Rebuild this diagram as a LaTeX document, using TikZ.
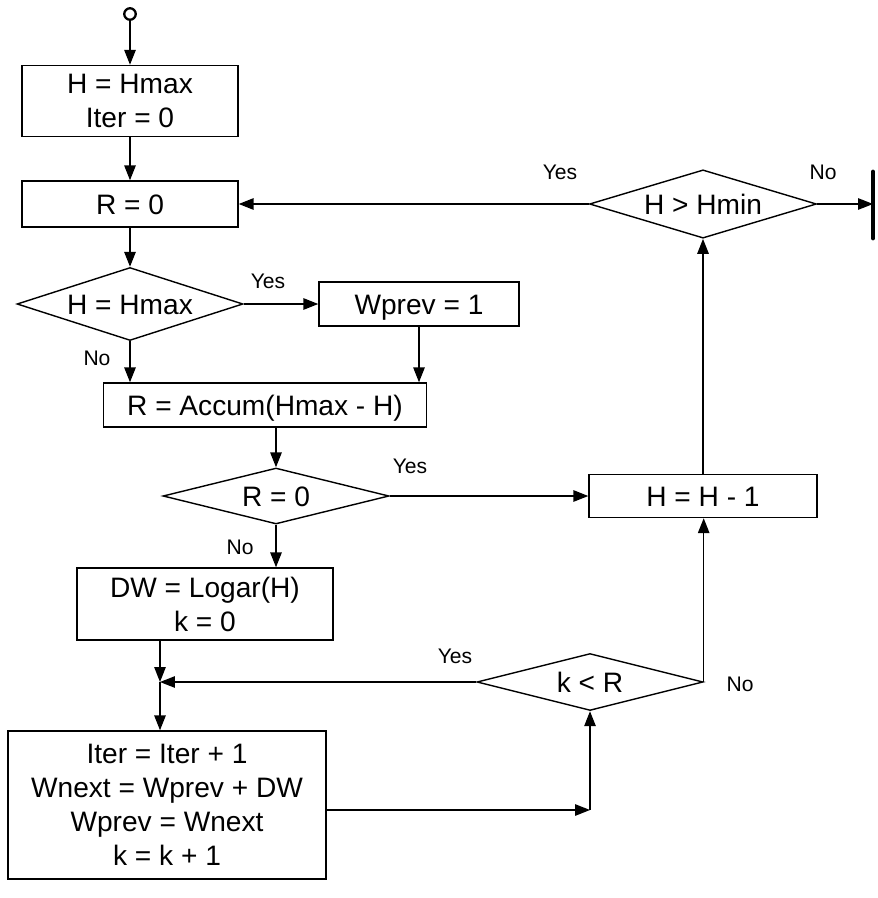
\documentclass[tikz,border=0pt]{standalone}
\usepackage{fontspec}
\setmainfont{Liberation Sans}
\usetikzlibrary{positioning,shapes.geometric,arrows.meta,calc}

\begin{document}
\begin{tikzpicture}[x=0.02cm, y=-0.02cm, line width=0.8pt,
    proc/.style={draw, rectangle, inner sep=0pt, align=center,
        font=\fontsize{16}{19.3}\selectfont},
    single/.style={text height=14pt, text depth=2.5pt},
    cond/.style={draw, diamond, aspect=3, inner sep=0pt, single,
        font=\fontsize{16}{19.3}\selectfont},
    lbl/.style={font=\fontsize{12}{14}\selectfont},
    flow/.style={-{Triangle[length=8.5pt, width=6.5pt]}}]
\useasboundingbox (0,0) rectangle (877,898);

% Start point
\node[draw, circle, inner sep=0pt, minimum size=0.23cm, line width=1.3pt] (start) at (130,14) {};

% Blocks
\node[proc, minimum width=4.32cm, minimum height=1.42cm] (init) at (130,101) {H = Hmax\\Iter = 0};
\node[proc, single, minimum width=4.32cm, minimum height=0.92cm] (rzero) at (130,204) {R = 0};
\node[cond, minimum width=4.52cm, minimum height=1.46cm] (ishmax) at (130,304) {H = Hmax};
\node[proc, single, minimum width=4.0cm, minimum height=0.88cm] (wprev) at (419,304) {Wprev = 1};
\node[proc, single, minimum width=6.46cm, minimum height=0.88cm] (accum) at (265,405) {R = Accum(Hmax - H)};
\node[cond, minimum width=4.52cm, minimum height=1.12cm] (isrzero) at (276,496) {R = 0};
\node[proc, single, minimum width=4.56cm, minimum height=0.86cm] (hdec) at (703,496) {H = H - 1};
\node[proc, minimum width=5.12cm, minimum height=1.44cm] (logar) at (205,604) {DW = Logar(H)\\k = 0};
\node[cond, minimum width=4.52cm, minimum height=1.14cm] (klessr) at (590,682) {k < R};
\node[proc, minimum width=6.36cm, minimum height=2.96cm] (iter) at (167,805)
    {Iter = Iter + 1\\Wnext = Wprev + DW\\Wprev = Wnext\\k = k + 1};
\node[cond, minimum width=4.54cm, minimum height=1.16cm] (hmin) at (703,204) {H > Hmin};

% End bar
\coordinate (endtop) at (873,172);
\coordinate (endbot) at (873,238);
\draw[line width=2.8pt, line cap=round] (endtop) -- (endbot);

% Junctions
\coordinate (join) at (160,682);
\coordinate (turn) at (590,810);

% Connectors
\draw[flow] (start) -- (init);
\draw[flow] (init) -- (rzero);
\draw[flow] (rzero) -- (ishmax);
\draw[flow] (ishmax.east) -- (wprev.west);
\draw[flow] (ishmax.south) -- (ishmax.south |- accum.north);
\draw[flow] (wprev.south) -- (wprev.south |- accum.north);
\draw[flow] (isrzero.north |- accum.south) -- (isrzero.north);
\draw[flow] (isrzero.east) -- (hdec.west);
\draw[flow] (isrzero.south) -- (isrzero.south |- logar.north);
\draw[flow] (join |- logar.south) -- (join);
\draw[flow] (join) -- (join |- iter.north);
\draw[flow] (klessr.west) -- (join);
\draw[flow] (klessr.east) -- (klessr.east |- hdec.south);
\draw[flow] (iter.east |- turn) -- (turn);
\draw[flow] (turn) -- (klessr.south);
\draw[flow] (hdec.north) -- (hmin.south);
\draw[flow] (hmin.west) -- (rzero.east);
\draw[flow] (hmin.east) -- (hmin.east -| endtop);

% Branch labels
\node[lbl] (yes1) at (268,281) {Yes};
\node[lbl] (no1) at (97,358) {No};
\node[lbl] (yes2) at (410,466) {Yes};
\node[lbl] (no2) at (240,547) {No};
\node[lbl] (yes3) at (455,656) {Yes};
\node[lbl] (no3) at (740,684) {No};
\node[lbl] (yes4) at (560,172) {Yes};
\node[lbl] (no4) at (823,172) {No};

\end{tikzpicture}
\end{document}
